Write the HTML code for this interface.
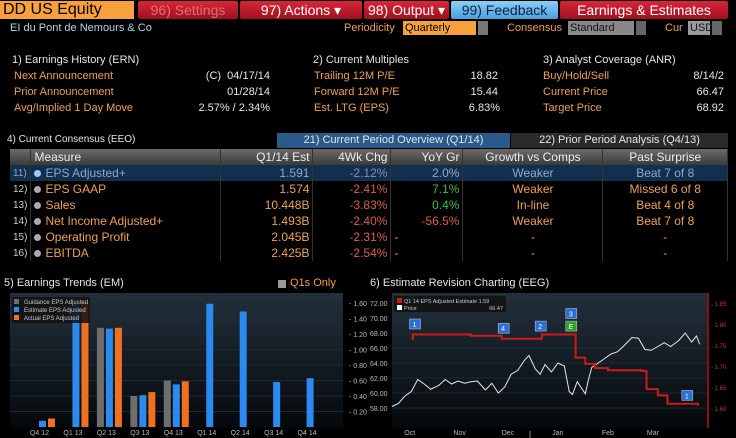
<!DOCTYPE html>
<html><head><meta charset="utf-8"><style>
*{margin:0;padding:0;box-sizing:border-box}
body{width:736px;height:438px;background:#000;overflow:hidden;position:relative;font-family:"Liberation Sans Narrow","Liberation Sans",sans-serif;font-size:11px;color:#e6e6e6}
.a{position:absolute;white-space:nowrap}
.or{color:#f0a050}
.btn{position:absolute;top:1px;height:18px;background:linear-gradient(#d8263a,#a0101e);color:#fff;font-size:14px;line-height:18px;text-align:center;border-radius:2px;overflow:hidden}
.r{text-align:right}
table{border-collapse:collapse;position:absolute;left:10px;top:149px;width:718px;font-size:12px}
td{height:16px;line-height:15px;padding:0 3px;border-right:1px solid #333}
tr.h td{background:linear-gradient(#6a6a6a,#3a3a3a);color:#eee}
tr.sel td{background:#12304e;color:#8fa8c8}
td.n{color:#ccc;width:18px;font-size:10px}
.dot{display:inline-block;width:7px;height:7px;border-radius:50%;background:#aaa;margin-right:4px}
.neg{color:#e05a50}.pos{color:#40c040}.c{text-align:center}
</style></head><body>
<div class="a" style="left:0;top:1px;width:134px;height:18px;background:#f7a03c;color:#000;font-size:16px;line-height:18px;padding-left:3px">DD US Equity</div>
<div class="btn" style="left:138px;width:100px;color:#e07070">96) Settings</div>
<div class="btn" style="left:240px;width:122px">97) Actions ▾</div>
<div class="btn" style="left:364px;width:85px">98) Output ▾</div>
<div class="btn" style="left:451px;width:107px;background:linear-gradient(#8ccff5,#4aa0e0);color:#102040">99) Feedback</div>
<div class="btn" style="left:560px;width:168px">Earnings &amp; Estimates</div>
<div class="a" style="left:10px;top:22px;color:#a8d8e8">EI du Pont de Nemours &amp; Co</div>
<div class="a or" style="left:344px;top:22px">Periodicity</div>
<div class="a" style="left:403px;top:21px;width:73px;height:14px;background:#f7a03c;color:#000;padding-left:2px;line-height:14px">Quarterly</div>
<div class="a" style="left:478px;top:21px;width:10px;height:14px;background:#777"></div>
<div class="a or" style="left:507px;top:22px">Consensus</div>
<div class="a" style="left:568px;top:21px;width:66px;height:14px;background:#888;color:#111;padding-left:2px;line-height:14px">Standard</div>
<div class="a" style="left:636px;top:21px;width:10px;height:14px;background:#666"></div>
<div class="a or" style="left:665px;top:22px">Cur</div>
<div class="a" style="left:688px;top:21px;width:22px;height:14px;background:#999;color:#111;padding-left:2px;line-height:14px">USD</div>
<div class="a" style="left:712px;top:21px;width:10px;height:14px;background:#666"></div>

<div class="a" style="left:12px;top:54px">1) Earnings History (ERN)</div>
<div class="a or" style="left:14px;top:70px">Next Announcement</div>
<div class="a or" style="left:14px;top:86px">Prior Announcement</div>
<div class="a or" style="left:14px;top:102px">Avg/Implied 1 Day Move</div>
<div class="a r" style="right:466px;top:70px">(C)&nbsp; 04/17/14</div>
<div class="a r" style="right:466px;top:86px">01/28/14</div>
<div class="a r" style="right:466px;top:102px">2.57% / 2.34%</div>
<div class="a" style="left:313px;top:54px">2) Current Multiples</div>
<div class="a or" style="left:314px;top:70px">Trailing 12M P/E</div>
<div class="a or" style="left:314px;top:86px">Forward 12M P/E</div>
<div class="a or" style="left:314px;top:102px">Est. LTG (EPS)</div>
<div class="a r" style="right:238px;top:70px">18.82</div>
<div class="a r" style="right:238px;top:86px">15.44</div>
<div class="a r" style="right:236px;top:102px">6.83%</div>
<div class="a" style="left:543px;top:54px">3) Analyst Coverage (ANR)</div>
<div class="a or" style="left:543px;top:70px">Buy/Hold/Sell</div>
<div class="a or" style="left:543px;top:86px">Current Price</div>
<div class="a or" style="left:543px;top:102px">Target Price</div>
<div class="a r" style="right:12px;top:70px">8/14/2</div>
<div class="a r" style="right:12px;top:86px">66.47</div>
<div class="a r" style="right:12px;top:102px">68.92</div>

<div class="a" style="left:7px;top:134px;font-size:10px">4) Current Consensus (EEO)</div>
<div class="a c" style="left:277px;top:133px;width:233px;height:15px;background:#2a5a8a;line-height:15px">21) Current Period Overview (Q1/14)</div>
<div class="a c" style="left:511px;top:133px;width:217px;height:15px;background:#2a2a2a;line-height:15px">22) Prior Period Analysis (Q4/13)</div>
<table>
<tr class="h"><td class="n"></td><td>Measure</td><td class="r">Q1/14 Est</td><td class="r">4Wk Chg</td><td class="r">YoY Gr</td><td class="c">Growth vs Comps</td><td class="c">Past Surprise</td></tr>
<tr class="sel"><td class="n">11)</td><td style="width:190px"><span class="dot" style="background:#9cf"></span>EPS Adjusted+</td><td class="r" style="width:92px">1.591</td><td class="r neg" style="width:78px;color:#8a88c0">-2.12%</td><td class="r pos" style="width:72px">2.0%</td><td class="c" style="width:140px">Weaker</td><td class="c">Beat 7 of 8</td></tr>
<tr class="or"><td class="n">12)</td><td><span class="dot"></span>EPS GAAP</td><td class="r">1.574</td><td class="r neg">-2.41%</td><td class="r pos">7.1%</td><td class="c">Weaker</td><td class="c">Missed 6 of 8</td></tr>
<tr class="or"><td class="n">13)</td><td><span class="dot"></span>Sales</td><td class="r">10.448B</td><td class="r neg">-3.83%</td><td class="r pos">0.4%</td><td class="c">In-line</td><td class="c">Beat 4 of 8</td></tr>
<tr class="or"><td class="n">14)</td><td><span class="dot"></span>Net Income Adjusted+</td><td class="r">1.493B</td><td class="r neg">-2.40%</td><td class="r neg">-56.5%</td><td class="c">Weaker</td><td class="c">Beat 7 of 8</td></tr>
<tr class="or"><td class="n">15)</td><td><span class="dot"></span>Operating Profit</td><td class="r">2.045B</td><td class="r neg">-2.31%</td><td>-</td><td class="c">-</td><td class="c">-</td></tr>
<tr class="or"><td class="n">16)</td><td><span class="dot"></span>EBITDA</td><td class="r">2.425B</td><td class="r neg">-2.54%</td><td>-</td><td class="c">-</td><td class="c">-</td></tr>
</table>

<div class="a" style="left:4px;top:277px;font-size:11px">5) Earnings Trends (EM)</div>
<div class="a" style="left:278px;top:280px;width:8px;height:8px;background:#999"></div>
<div class="a or" style="left:290px;top:277px">Q1s Only</div>
<div class="a" style="left:370px;top:277px">6) Estimate Revision Charting (EEG)</div>

<svg id="em" class="a" style="left:0;top:290px" width="368" height="148"></svg>
<svg id="eeg" class="a" style="left:368px;top:290px" width="368" height="148"></svg>

<script>
const quarters=["Q4 12","Q1 13","Q2 13","Q3 13","Q4 13","Q1 14","Q2 14","Q3 14","Q4 14"];
const guidance=[null,null,1.28,0.40,0.60,null,null,null,null];
const estimate=[0.08,1.59,1.27,0.41,0.55,1.59,1.49,0.58,0.63];
const actual=[0.11,1.61,1.28,0.45,0.59,null,null,null,null];
const emTicks=[0.20,0.40,0.60,0.80,1.00,1.20,1.40,1.60];

const priceDays=[-11,-7,-3,1,5,9,13,18,22,26,30,34,38,42,47,51,55,59,63,67,71,74,78,81,84,88,92,96,99,101,104,109,111,113,117,121,125,129,133,138,142,146,150,154,158,162,167,171,175,178,180];
const priceVals=[58.2,58.6,59.6,60.2,61.8,61.2,60.5,61.0,61.8,61.2,61.6,61.3,61.5,61.6,60.4,61.3,60.0,60.8,62.5,63.0,64.3,65.0,63.2,62.5,63.8,62.8,64.0,63.6,60.2,59.8,61.5,59.9,61.8,63.4,64.0,64.6,65.2,65.5,66.3,67.4,67.3,65.8,65.7,66.2,66.7,66.2,67.0,68.0,66.8,67.6,66.5];
const estDays=[1,2,36,38,55,57,80,82,100,103,109,115,123,144,147,154,160,173,179];
const estVals=[1.765,1.775,1.775,1.772,1.772,1.765,1.765,1.775,1.775,1.72,1.705,1.695,1.69,1.688,1.645,1.63,1.61,1.61,1.605];
const priceTicks=[58,60,62,64,66,68,70,72];
const estTicks=[1.60,1.65,1.70,1.75,1.80,1.85];
const monthLabels=["Oct","Nov","Dec","Jan","Feb","Mar"];
const monthDays=[0,31,61,92,123,151];
const markerDays=[3,58,81,100,100,172];
const markerLabels=["1","4","2","3","E","1"];
const markerLevels=[1.80,1.79,1.795,1.825,1.795,1.63];

const NS="http://www.w3.org/2000/svg";
function mk(svg,tag,attrs,text){const e=document.createElementNS(NS,tag);for(const k in attrs)e.setAttribute(k,attrs[k]);if(text!=null)e.textContent=text;svg.appendChild(e);return e;}
function grad(svg,id){const d=mk(svg,'defs',{});const g=document.createElementNS(NS,'linearGradient');g.setAttribute('id',id);g.setAttribute('x1',0);g.setAttribute('y1',0);g.setAttribute('x2',0);g.setAttribute('y2',1);d.appendChild(g);[[0,'#22303c'],[1,'#05080b']].forEach(s=>{const st=document.createElementNS(NS,'stop');st.setAttribute('offset',s[0]);st.setAttribute('stop-color',s[1]);g.appendChild(st);});}

(function(){
const s=document.getElementById('em');grad(s,'g1');
const L=10,R=343,T=3,B=138;
const y=v=>137-v*(15.5/0.2);
const x=i=>42.5+i*33.45;
mk(s,'rect',{x:L,y:T,width:R-L,height:B-T,fill:'url(#g1)'});
emTicks.forEach(t=>{const e=mk(s,'line',{x1:L,x2:R,y1:y(t),y2:y(t),stroke:'#1e2a34','stroke-width':1});
const tx=mk(s,'text',{x:R+6,y:y(t)+3,fill:'#bbb','font-size':7},'- '+t.toFixed(2));});
const series=[[guidance,'#6e6e6e',-9],[estimate,'#2a8af0',0],[actual,'#f07020',9]];
series.forEach(([arr,col,off])=>arr.forEach((v,i)=>{if(v==null)return;const r=mk(s,'rect',{x:x(i)+off-3.5,y:y(v),width:7,height:y(0)-y(v),fill:col});}));
quarters.forEach((q,i)=>{const t=mk(s,'text',{x:x(i)-3,y:145,fill:'#bbb','font-size':7,'text-anchor':'middle'},q);});
const lg=mk(s,'rect',{x:12,y:7,width:78,height:26,fill:'#111','opacity':0.85});
[['Guidance EPS Adjusted','#6e6e6e'],['Estimate EPS Adjusted','#2a8af0'],['Actual EPS Adjusted','#f07020']].forEach((l,i)=>{mk(s,'rect',{x:14,y:9+i*8,width:5,height:5,fill:l[1]});const t=mk(s,'text',{x:24,y:14+i*8,fill:'#ccc','font-size':6},l[0]);});
})();

(function(){
const s=document.getElementById('eeg');grad(s,'g2');
const L=24,R=339,T=3,B=138;
const xd=d=>41.7+d*1.611;
const yp=p=>13+(72-p)*7.5;
const ye=v=>13+(1.85-v)*420;
mk(s,'rect',{x:L,y:T,width:R-L,height:B-T,fill:'url(#g2)'});
priceTicks.forEach(t=>{const g=mk(s,'line',{x1:L,x2:R,y1:yp(t),y2:yp(t),stroke:'#1e2a34'});
const tx=mk(s,'text',{x:2,y:yp(t)+3,fill:'#bbb','font-size':7},t.toFixed(2));});
mk(s,'line',{x1:R+1,x2:R+1,y1:T,y2:B,stroke:'#b01818','stroke-width':1.5});
estTicks.forEach(t=>{const tx=mk(s,'text',{x:R+4,y:ye(t)+3,fill:'#d03030','font-size':6},'- '+t.toFixed(2));});
monthLabels.forEach((m,i)=>{const tx=mk(s,'text',{x:xd(monthDays[i]),y:145,fill:'#bbb','font-size':7,'text-anchor':'middle'},m);});
mk(s,'text',{x:89,y:154,fill:'#bbb','font-size':6,'text-anchor':'middle'},'2013');
mk(s,'text',{x:249,y:154,fill:'#bbb','font-size':6,'text-anchor':'middle'},'2014');
mk(s,'line',{x1:162,x2:162,y1:141,y2:148,stroke:'#888'});
const pp=mk(s,'polyline',{points:priceDays.map((d,i)=>xd(d)+','+yp(priceVals[i])).join(' '),fill:'none',stroke:'#e8e8e8','stroke-width':1});

const pts=[];estDays.forEach((d,i)=>{if(i>0)pts.push(xd(d)+','+ye(estVals[i-1]));pts.push(xd(d)+','+ye(estVals[i]));});
const el=mk(s,'polyline',{points:pts.join(' '),fill:'none',stroke:'#d01818','stroke-width':2});

markerDays.forEach((d,i)=>{const cx=xd(d),cy=ye(markerLevels[i]);const r=mk(s,'rect',{x:cx-5,y:cy-5,width:11,height:10,fill:markerLabels[i]=='E'?'#30a030':'#2a70d8',stroke:'#ccc','stroke-width':0.5});

mk(s,'text',{x:cx,y:cy+3,fill:'#fff','font-size':7,'text-anchor':'middle'},markerLabels[i]);});
const lg=mk(s,'rect',{x:26,y:6,width:112,height:16,fill:'#111',opacity:0.85});
mk(s,'rect',{x:29,y:8,width:5,height:5,fill:'#d01818'});
mk(s,'text',{x:36,y:13,fill:'#ccc','font-size':5.5},'Q1 14 EPS Adjusted Estimate  1.59');
mk(s,'rect',{x:29,y:15,width:5,height:5,fill:'#fff'});
mk(s,'text',{x:36,y:20,fill:'#ccc','font-size':5.5},'Price');
mk(s,'text',{x:135,y:20,fill:'#ccc','font-size':5.5,'text-anchor':'end'},'66.47');
})();
</script>
</body></html>
